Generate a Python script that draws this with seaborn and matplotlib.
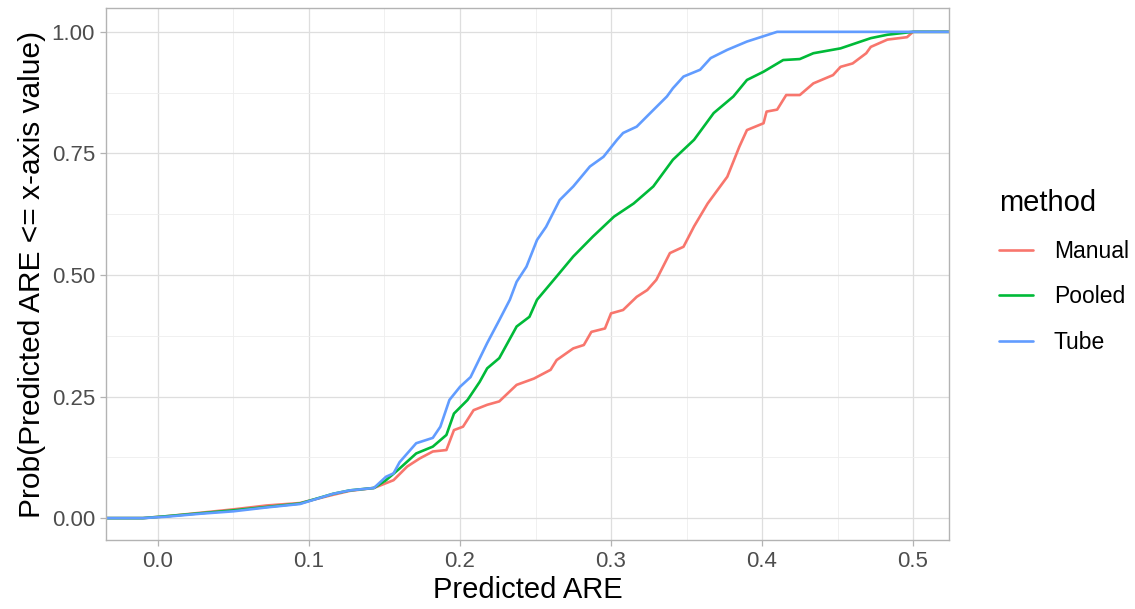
import matplotlib
matplotlib.use("Agg")
import matplotlib.pyplot as plt
from matplotlib.ticker import MultipleLocator
import seaborn as sns
import pandas as pd

# Empirical CDF of predicted ARE per method (padded to -inf / +inf like stat_ecdf)
manual_x = [-0.05, -0.010, 0.006, 0.028, 0.050, 0.072, 0.094, 0.116, 0.127, 0.143, 0.156,
            0.165, 0.1735, 0.182, 0.191, 0.196, 0.202, 0.209, 0.218, 0.226, 0.2375, 0.249,
            0.260, 0.264, 0.275, 0.282, 0.287, 0.296, 0.300, 0.308, 0.317, 0.324, 0.330,
            0.339, 0.348, 0.355, 0.364, 0.377, 0.385, 0.390, 0.401, 0.403, 0.410, 0.416,
            0.425, 0.434, 0.447, 0.452, 0.460, 0.469, 0.472, 0.483, 0.496, 0.500, 0.60]
manual_y = [0.0, 0.0, 0.004, 0.011, 0.018, 0.026, 0.031, 0.048, 0.056, 0.062, 0.078,
            0.106, 0.123, 0.137, 0.140, 0.181, 0.188, 0.222, 0.233, 0.240, 0.274, 0.287,
            0.305, 0.325, 0.349, 0.356, 0.383, 0.390, 0.421, 0.428, 0.455, 0.469, 0.490,
            0.545, 0.558, 0.600, 0.647, 0.702, 0.764, 0.798, 0.812, 0.836, 0.840, 0.870,
            0.870, 0.894, 0.911, 0.928, 0.935, 0.956, 0.969, 0.984, 0.989, 1.0, 1.0]

pooled_x = [-0.05, -0.010, 0.006, 0.028, 0.050, 0.072, 0.094, 0.116, 0.127, 0.143, 0.151,
            0.160, 0.171, 0.182, 0.191, 0.196, 0.205, 0.213, 0.218, 0.226, 0.2375, 0.246,
            0.251, 0.264, 0.275, 0.288, 0.302, 0.315, 0.328, 0.341, 0.355, 0.368, 0.381,
            0.390, 0.401, 0.414, 0.425, 0.434, 0.452, 0.472, 0.483, 0.500, 0.60]
pooled_y = [0.0, 0.0, 0.004, 0.010, 0.016, 0.023, 0.030, 0.050, 0.057, 0.062, 0.078,
            0.102, 0.133, 0.147, 0.171, 0.215, 0.243, 0.280, 0.308, 0.329, 0.394, 0.414,
            0.449, 0.497, 0.538, 0.579, 0.620, 0.647, 0.682, 0.737, 0.778, 0.833, 0.867,
            0.901, 0.918, 0.942, 0.944, 0.956, 0.966, 0.987, 0.994, 1.0, 1.0]

tube_x = [-0.05, -0.010, 0.006, 0.028, 0.050, 0.072, 0.094, 0.116, 0.127, 0.143, 0.151,
          0.156, 0.160, 0.171, 0.182, 0.187, 0.193, 0.200, 0.207, 0.218, 0.226, 0.233,
          0.2375, 0.244, 0.251, 0.257, 0.266, 0.275, 0.286, 0.295, 0.304, 0.308, 0.317,
          0.326, 0.337, 0.341, 0.348, 0.359, 0.366, 0.377, 0.390, 0.401, 0.410, 0.60]
tube_y = [0.0, 0.0, 0.003, 0.009, 0.014, 0.022, 0.029, 0.050, 0.057, 0.062, 0.085,
          0.092, 0.115, 0.154, 0.165, 0.188, 0.243, 0.270, 0.290, 0.360, 0.407, 0.449,
          0.486, 0.517, 0.572, 0.599, 0.654, 0.682, 0.723, 0.743, 0.778, 0.792, 0.805,
          0.833, 0.867, 0.884, 0.908, 0.922, 0.946, 0.963, 0.980, 0.991, 1.0, 1.0]

methods = ["Manual", "Pooled", "Tube"]
colors = ["#F8766D", "#00BA38", "#619CFF"]
x_ticks = [0.0, 0.1, 0.2, 0.3, 0.4, 0.5]
y_ticks = [0.0, 0.25, 0.50, 0.75, 1.0]

frames = []
for name, xs, ys in zip(methods, [manual_x, pooled_x, tube_x], [manual_y, pooled_y, tube_y]):
    frames.append(pd.DataFrame({"are": xs, "prob": ys, "method": name}))
df = pd.concat(frames, ignore_index=True)

sns.set_theme(style="white")
plt.rcParams["font.family"] = ["Liberation Sans", "DejaVu Sans"]
plt.rcParams["text.color"] = "black"

fig = plt.figure(figsize=(11.35, 6.09), dpi=100)
ax = fig.add_axes([106 / 1135, 1 - 540 / 609, (949 - 106) / 1135, (540 - 8) / 609])

sns.lineplot(data=df, x="are", y="prob", hue="method", hue_order=methods,
             palette=dict(zip(methods, colors)), estimator=None, sort=False,
             linewidth=1.9, ax=ax, legend=False)

ax.set_xlim(-0.0344, 0.5238)
ax.set_ylim(-0.045, 1.049)
ax.set_xticks(x_ticks)
ax.set_xticklabels([f"{v:.1f}" for v in x_ticks])
ax.set_yticks(y_ticks)
ax.set_yticklabels([f"{v:.2f}" for v in y_ticks])
ax.xaxis.set_minor_locator(MultipleLocator(0.05))
ax.yaxis.set_minor_locator(MultipleLocator(0.125))

ax.grid(which="major", color="#DEDEDE", linewidth=0.9)
ax.grid(which="minor", color="#EEEEEE", linewidth=0.6)
ax.set_axisbelow(True)
for sp in ax.spines.values():
    sp.set_color("#B3B3B3")
    sp.set_linewidth(1.0)

ax.tick_params(axis="both", which="major", length=4, width=0.9, color="#B3B3B3",
               labelcolor="#4D4D4D", labelsize=16, pad=4, bottom=True, left=True)
ax.tick_params(axis="both", which="minor", length=0)

ax.set_xlabel("Predicted ARE", fontsize=21, color="black", labelpad=3)
ax.set_ylabel("Prob(Predicted ARE <= x-axis value)", fontsize=21.5, color="black", labelpad=4)

handles = [plt.Line2D([], [], color=c, linewidth=1.9) for c in colors]
leg = fig.legend(handles, methods, title="method", loc="upper left",
                 bbox_to_anchor=(978 / 1135, 1 - 168 / 609), frameon=False,
                 fontsize=16.5, title_fontsize=21, handlelength=1.5,
                 handletextpad=0.9, labelspacing=1.0, alignment="left")
leg.get_title().set_color("black")
for t in leg.get_texts():
    t.set_color("black")

fig.savefig("out.png", dpi=100)
